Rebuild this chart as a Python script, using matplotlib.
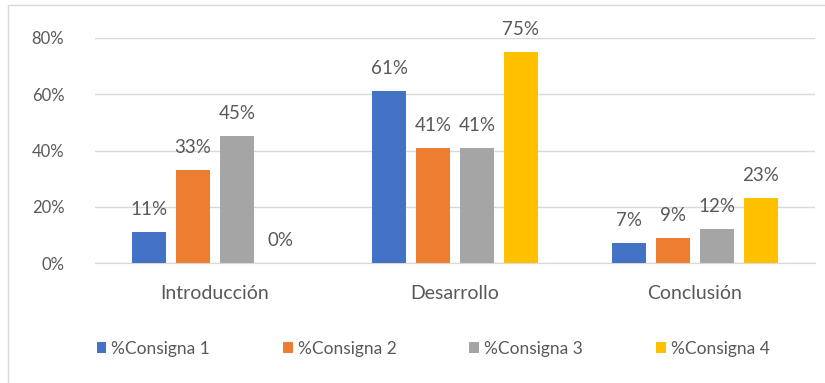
import numpy as np
import matplotlib.pyplot as plt
import matplotlib.patches as patches
from matplotlib.ticker import PercentFormatter

categories = ["Introducción", "Desarrollo", "Conclusión"]
series_names = ["%Consigna 1", "%Consigna 2", "%Consigna 3", "%Consigna 4"]
consigna_1 = [0.11, 0.61, 0.07]
consigna_2 = [0.33, 0.41, 0.09]
consigna_3 = [0.45, 0.41, 0.12]
consigna_4 = [0.00, 0.75, 0.23]
yticks = [0.0, 0.2, 0.4, 0.6, 0.8]

colors = ["#4472C4", "#ED7D31", "#A5A5A5", "#FFC000"]
text_color = "#595959"
plt.rcParams["font.family"] = ["Lato", "DejaVu Sans"]

fig = plt.figure(figsize=(8.25, 3.83), dpi=100)
ax = fig.add_axes([0.115, 0.313, 0.873, 0.588])

x = np.arange(len(categories))
width = 0.142
step = 0.183
all_series = [consigna_1, consigna_2, consigna_3, consigna_4]
for i, (vals, name, c) in enumerate(zip(all_series, series_names, colors)):
    pos = x + (i - 1.5) * step
    bars = ax.bar(pos, vals, width, color=c, label=name, zorder=3)
    for b, v in zip(bars, vals):
        ax.text(b.get_x() + b.get_width() / 2, v + 0.05, f"{v:.0%}",
                ha="center", va="bottom", fontsize=13.5, color=text_color)

ax.set_xlim(-0.5, 2.5)
ax.set_ylim(0, 0.8)
ax.set_yticks(yticks)
ax.yaxis.set_major_formatter(PercentFormatter(1.0, decimals=0))
ax.set_xticks(x)
ax.set_xticklabels(categories, fontsize=14)
ax.tick_params(axis="both", length=0, colors=text_color)
ax.tick_params(axis="y", pad=22, labelsize=12)
ax.tick_params(axis="x", pad=16)
ax.grid(axis="y", color="#D9D9D9", linewidth=1, zorder=0)
for side in ["top", "right", "left"]:
    ax.spines[side].set_visible(False)
ax.spines["bottom"].set_color("#D9D9D9")

fig.legend(loc="center", bbox_to_anchor=(0.525, 0.09), ncol=4, frameon=False,
           fontsize=12.5, labelcolor=text_color, handlelength=0.55,
           handleheight=0.55, handletextpad=0.3, columnspacing=4.2)

# chart border
fig.patches.append(patches.Rectangle((8 / 825, -0.1), 1.2, 1 - 5 / 383 + 0.1,
                                     transform=fig.transFigure, fill=False,
                                     edgecolor="#D9D9D9", linewidth=1))

fig.savefig("out.png", dpi=100)
